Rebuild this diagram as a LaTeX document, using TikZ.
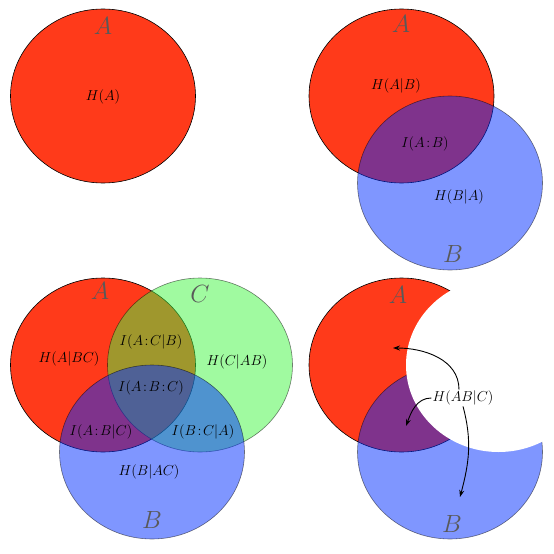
\documentclass[tikz,border=0pt]{standalone}
\usetikzlibrary{arrows.meta}

\definecolor{vennred}{RGB}{255,58,26}
\definecolor{vennblue}{RGB}{0,45,255}
\definecolor{venngreen}{RGB}{65,245,65}

\begin{document}
\begin{tikzpicture}[
  x=1pt,y=-1pt,
  setA/.style={draw=black,line width=0.6pt,fill=vennred},
  setB/.style={draw=black,line width=0.6pt,fill=vennblue,opacity=0.5},
  setC/.style={draw=black,line width=0.6pt,fill=venngreen,opacity=0.5},
  cutout/.style={fill=white},
  lbl/.style={font=\fontsize{14}{16}\selectfont},
  setname/.style={font=\fontsize{28}{30}\selectfont,text=black!65},
  arr/.style={-{Stealth[length=7pt,width=5pt]},line width=0.9pt},
]
  \useasboundingbox (0,0) rectangle (554,554);

  % panel 1: one set
  \draw[setA] (103,96) ellipse [x radius=92.5pt,y radius=87pt];
  \node[setname] (a1) at (103,26) {$A$};
  \node[lbl] (ha) at (103,97) {$H(A)$};

  % panel 2: two sets
  \draw[setA] (401.5,96) ellipse [x radius=92.5pt,y radius=87pt];
  \draw[setB] (450,183) ellipse [x radius=92.5pt,y radius=87pt];
  \node[setname] (a2) at (401,24) {$A$};
  \node[setname] (b2) at (453,254) {$B$};
  \node[lbl] (hab) at (396,86) {$H(A|B)$};
  \node[lbl] (iab) at (425,144) {$I(A\!:\!B)$};
  \node[lbl] (hba) at (459,197) {$H(B|A)$};

  % panel 3: three sets
  \draw[setA] (103,365) ellipse [x radius=92.5pt,y radius=87pt];
  \draw[setC] (200,365) ellipse [x radius=92.5pt,y radius=87pt];
  \draw[setB] (152,452) ellipse [x radius=92.5pt,y radius=87pt];
  \node[setname] (a3) at (100,291) {$A$};
  \node[setname] (c3) at (200,294) {$C$};
  \node[setname] (b3) at (152,520) {$B$};
  \node[lbl] (habc1) at (69,359) {$H(A|BC)$};
  \node[lbl] (iacb) at (151,342) {$I(A\!:\!C|B)$};
  \node[lbl] (hcab) at (237,362) {$H(C|AB)$};
  \node[lbl] (iabc) at (151,388) {$I(A\!:\!B\!:\!C)$};
  \node[lbl] (iabgc) at (101,432) {$I(A\!:\!B|C)$};
  \node[lbl] (ibca) at (203,432) {$I(B\!:\!C|A)$};
  \node[lbl] (hbac) at (149,472) {$H(B|AC)$};

  % panel 4: joint entropy given C
  \draw[setA] (401.5,365) ellipse [x radius=92.5pt,y radius=87pt];
  \draw[setB] (450,452) ellipse [x radius=92.5pt,y radius=87pt];
  \fill[cutout] (498.5,365) ellipse [x radius=92.5pt,y radius=87pt];
  \node[setname] (a4) at (398,295) {$A$};
  \node[setname] (b4) at (452,524) {$B$};
  \node[lbl,inner sep=1pt] (habgc) at (463,398) {$H(AB|C)$};
  \coordinate (tA) at (393,348);
  \coordinate (tAB) at (406,426);
  \coordinate (tB) at (460,497);
  \draw[arr] ([xshift=-4pt]habgc.north) to[out=90,in=0] (tA);
  \draw[arr] (habgc.west) to[out=180,in=70] (tAB);
  \draw[arr] (habgc.south) to[out=-75,in=75] (tB);
\end{tikzpicture}
\end{document}
